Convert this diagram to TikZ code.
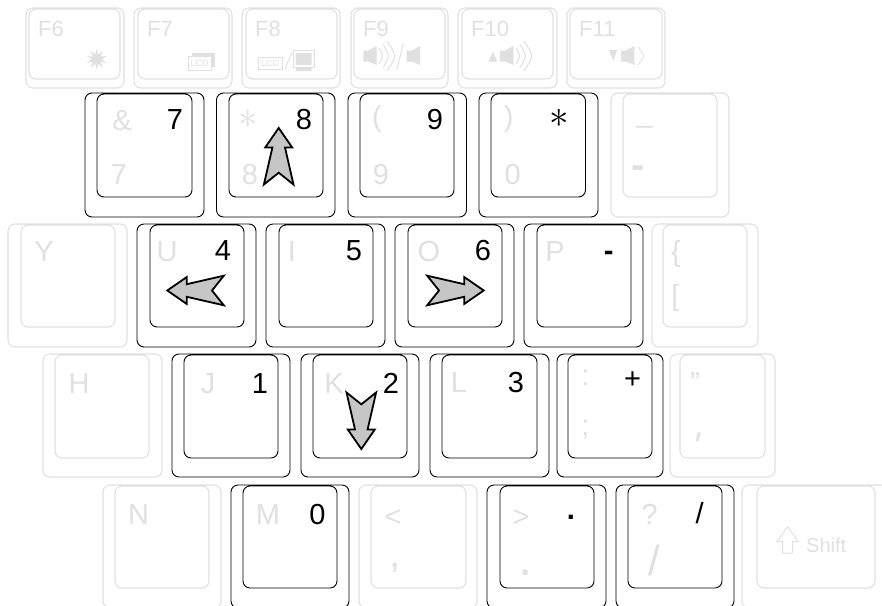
\documentclass[tikz,border=0pt]{standalone}
\usepackage{fontspec}
\setmainfont{Liberation Sans}
\usepackage{xcolor}
\usetikzlibrary{shapes.geometric}
\definecolor{keygray}{HTML}{E0E0E0}
\definecolor{arrowgray}{HTML}{C6C6C6}
\tikzset{
  faintkey/.style={draw=keygray,line width=1.1pt,rounded corners=7pt},
  hotkey/.style={draw=black,line width=0.9pt,rounded corners=7pt},
  faintlbl/.style={text=keygray,inner sep=0pt,anchor=base,font=\fontsize{29}{30}\selectfont},
  fnlbl/.style={text=keygray,inner sep=0pt,anchor=base west,font=\fontsize{22}{24}\selectfont},
  padnum/.style={text=black,inner sep=0pt,anchor=base,font=\fontsize{29}{30}\selectfont},
  padarrow/.style={draw=black,fill=arrowgray,line width=1.8pt,miter limit=6},
  icon/.style={draw=keygray,line width=1pt},
  iconfill/.style={fill=keygray},
}
% arrow on a key, tip at #1, turned by #2
\newcommand{\padarrowat}[2]{%
  \draw[padarrow,shift={#1},rotate=#2] (0,0) -- (13.5,19.5) -- (6.3,19.5) -- (14.8,56.5) -- (0,44.7)
    -- (-14.8,56.5) -- (-6.3,19.5) -- (-13.5,19.5) -- cycle;}
% speaker body, left edge of the box at #1
\newcommand{\speakerat}[1]{%
  \fill[iconfill,shift={#1}] (0,-5.5) -- (5,-5.5) -- (13.3,-10) -- (13.3,9) -- (5,5.5) -- (0,5.5) -- cycle;}
\begin{document}
\begin{tikzpicture}[x=1pt,y=-1pt]
    \clip (0,0) rectangle (882,605);
    % function row
    \foreach \xa/\xb/\xc/\xd in {26/124/29/120,134/232/138/229,242/340/246/337,351/448/354/445,458/557/462/553,567/665/570/662}
      \draw[faintkey] (\xa,8) rectangle (\xb,88) (\xc,9) rectangle (\xd,79);
    % number row
    \foreach \xa/\xb/\xc/\xd/\kst in {85/204/97/192/hotkey,216.5/335/229/323/hotkey,348/466.5/360/454/hotkey,479/598/491/585.5/hotkey,611/729/623/717/faintkey}
      \draw[style=\kst] (\xa,93) rectangle (\xb,217) (\xc,94) rectangle (\xd,197);
    % upper letter row
    \foreach \xa/\xb/\xc/\xd/\kst in {8/127/21/115/faintkey,137/256/150/244/hotkey,266/385/279/373/hotkey,395/514/408/502/hotkey,524/643/537/631/hotkey,652/758/663/747/faintkey}
      \draw[style=\kst] (\xa,224) rectangle (\xb,347) (\xc,225) rectangle (\xd,327);
    % home row
    \foreach \xa/\xb/\xc/\xd/\kst in {43/162/55/149/faintkey,172/290/184/278/hotkey,301/419/313/407/hotkey,430/549/442/537/hotkey,557/663/568/652/hotkey,670/775/680/765/faintkey}
      \draw[style=\kst] (\xa,354) rectangle (\xb,477) (\xc,355) rectangle (\xd,458);
    % bottom row, runs off the picture
    \foreach \xa/\xb/\xc/\xd/\kst in {103/221/115/209/faintkey,231/349/243/337/hotkey,359/477/371/466/faintkey,487/606/500/594/hotkey,616/734/628/722/hotkey,742/900/757/875/faintkey}
      \draw[style=\kst] (\xa,485) rectangle (\xb,608) (\xc,486) rectangle (\xd,588);
    % function labels
    \foreach \nm/\xa in {6/38,7/147,8/255,9/363,10/471,11/579}
      \node[fnlbl] (fn\nm) at (\xa,36) {F\nm};
    % legends the keypad does not use
    \foreach \nm/\cx/\by/\txt in {amp/122/130/\&,seven/119/184/7,eight/250/184/8,lparen/377/126/(,nine/381/184/9,rparen/508.7/126/),zero/512.7/184/0,under/644.5/122/\_,
        y/44/261/Y,u/167/261/U,i/292/261/I,o/429/261/O,p/555/261/P,lbrace/676/261/{\{},lbrack/675.3/305/[,
        h/79/393/H,j/208/393/J,k/334/393/K,l/459/392/L,colon/585.3/385/:,semi/585.3/435/;,dquote/695/392/{"},
        n/138.5/524/N,m/268/524/M,less/393/526/<,great/521/526/>,quest/649.7/524/?}
      \node[faintlbl] (lbl\nm) at (\cx,\by) {\txt};
    \node[faintlbl,font=\bfseries\fontsize{40}{40}\selectfont] (lblminus) at (638.5,178.5) {-};
    \node[faintlbl,font=\itshape\fontsize{40}{40}\selectfont] (lblquote) at (696,460) {\textquotesingle};
    \node[faintlbl,font=\fontsize{40}{40}\selectfont] (lblcomma) at (395,567) {,};
    \node[faintlbl,font=\bfseries\fontsize{36}{36}\selectfont] (lblstop) at (525.5,575) {.};
    \node[faintlbl,font=\fontsize{42}{42}\selectfont] (lblslash) at (654,575) {/};
    \node[text=keygray,inner sep=0pt,font=\fontsize{10}{12}\selectfont,scale=3.9] (lblstar) at (248.7,119) {$\ast$};
    \node[fnlbl,font=\fontsize{20}{22}\selectfont] (lblshift) at (806,552) {Shift};
    % keypad legends
    \foreach \nm/\cx/\by/\txt in {7/175/129.5/7,8/304/129.5/8,9/435/129.5/9,4/223/260/4,5/354/260/5,6/483/260/6,1/260/393/1,2/391/393/2,3/516/392/3,0/317.5/524/0,plus/632.7/388/+,slash/699.6/523/{/}}
      \node[padnum] (pad\nm) at (\cx,\by) {\txt};
    \node[padnum,font=\bfseries\fontsize{29}{30}\selectfont] (padminus) at (608.7,260.5) {-};
    \node[padnum,font=\bfseries\fontsize{29}{30}\selectfont] (padstop) at (571,519) {.};
    \node[text=black,inner sep=0pt,font=\fontsize{10}{12}\selectfont,scale=3.9] (padstar) at (559,118.5) {$\ast$};
    % arrows on 8 4 6 2
    \padarrowat{(278.7,128)}{0}
    \padarrowat{(167.3,290.5)}{90}
    \padarrowat{(483.7,290.5)}{-90}
    \padarrowat{(361.3,449)}{180}
    % F6 brightness
    \node[star,star points=10,star point ratio=2.2,fill=keygray,inner sep=0pt,minimum size=21pt] (sun) at (96.7,59.3) {};
    % F7 display
    \fill[iconfill] (192,53) rectangle (215,67);
    \draw[icon,fill=white] (188.5,56.5) rectangle (211,70);
    \node[text=keygray,inner sep=0pt,font=\fontsize{9}{9}\selectfont] (lcdf7) at (199.7,63.5) {LCD};
    % F8 display / monitor
    \draw[icon] (258,57) rectangle (282,69);
    \node[text=keygray,inner sep=0pt,font=\fontsize{9}{9}\selectfont] (lcdf8) at (270,63.2) {LCD};
    \draw[icon] (285,69) -- (292,52);
    \draw[icon] (293,50.5) rectangle (314.7,67.5);
    \fill[iconfill] (295.5,53) rectangle (311.5,65) (296,67.5) rectangle (311.5,71);
    % F9 volume / mute
    \speakerat{(363.3,56)}
    \foreach \xa/\xb/\hh in {379/384/8,383/390/11.5,387/397/15}
      \draw[icon] (\xa,56-\hh) .. controls (\xb,56) .. (\xa,56+\hh);
    \draw[icon] (396.7,70) -- (403.3,43.3);
    \speakerat{(406.7,56)}
    % F10 volume up
    \fill[iconfill] (488.3,61.7) -- (492.8,51.7) -- (497.3,61.7) -- cycle;
    \speakerat{(500,56)}
    \foreach \xa/\xb/\hh in {516/521/8,520/527/11.5,524/534/15}
      \draw[icon] (\xa,56-\hh) .. controls (\xb,56) .. (\xa,56+\hh);
    % F11 volume down
    \fill[iconfill] (609,50) -- (617.3,50) -- (613.2,60.7) -- cycle;
    \speakerat{(621,56)}
    \draw[icon] (638,47) .. controls (645.5,56) .. (638,65);
    % shift arrow
    \draw[icon] (787.5,526.7) -- (798.3,541.7) -- (792.7,541.7) -- (792.7,553) -- (782.7,553) -- (782.7,541.7) -- (776.7,541.7) -- cycle;
  \end{tikzpicture}
\end{document}
